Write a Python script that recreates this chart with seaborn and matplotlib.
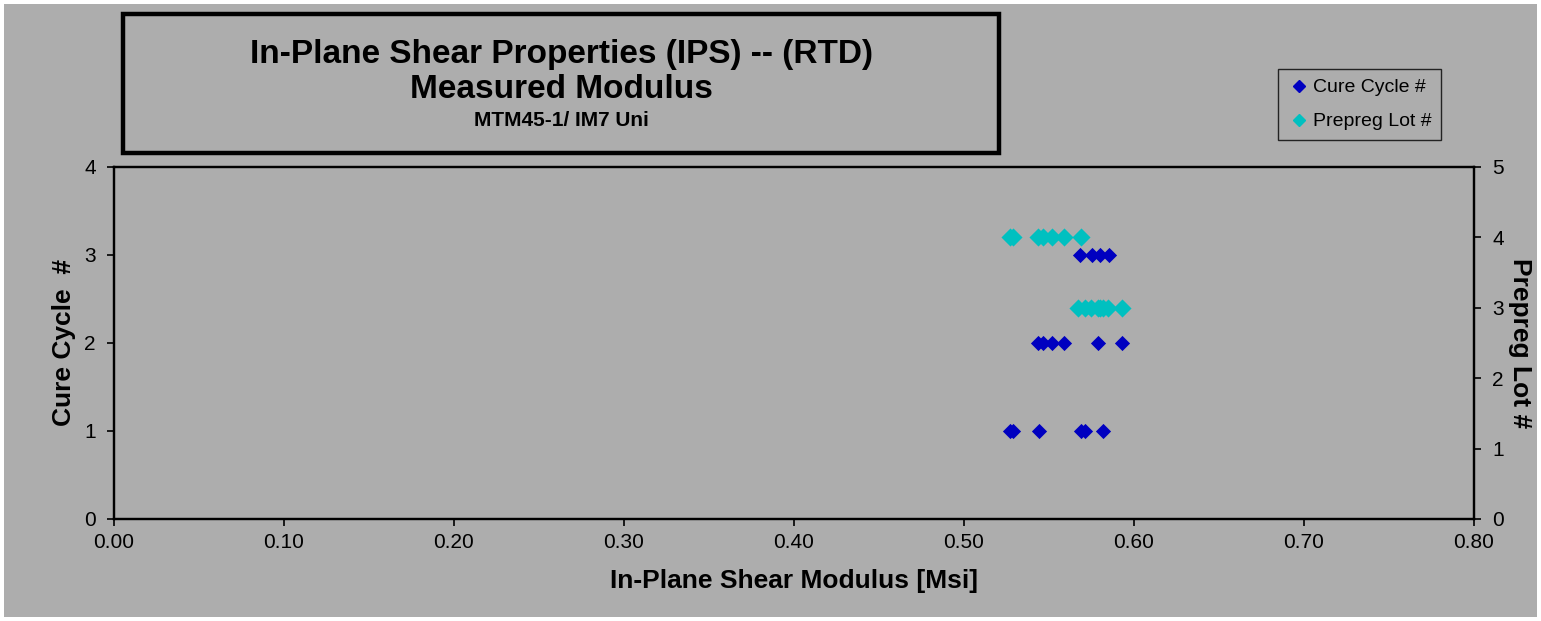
import matplotlib
matplotlib.use("Agg")
import matplotlib.pyplot as plt
from matplotlib.patches import Rectangle
from matplotlib.lines import Line2D
import seaborn as sns
import pandas as pd

# Cure cycle series (left axis)
cure_modulus = [0.527, 0.529, 0.544, 0.569, 0.571, 0.582,
                0.5435, 0.5465, 0.552, 0.559, 0.579, 0.593,
                0.568, 0.575, 0.580, 0.585]
cure_cycle = [1, 1, 1, 1, 1, 1,
              2, 2, 2, 2, 2, 2,
              3, 3, 3, 3]

# Prepreg lot series (right axis)
lot_modulus = [0.527, 0.529, 0.5435, 0.5465, 0.552, 0.559, 0.569,
               0.567, 0.571, 0.575, 0.579, 0.580, 0.582, 0.585, 0.593]
lot_number = [4, 4, 4, 4, 4, 4, 4,
              3, 3, 3, 3, 3, 3, 3, 3]

x_ticks = [0.0, 0.1, 0.2, 0.3, 0.4, 0.5, 0.6, 0.7, 0.8]
left_ticks = [0, 1, 2, 3, 4]
right_ticks = [0, 1, 2, 3, 4, 5]

bg = "#ADADAD"
blue = "#0000C0"
cyan = "#00C0C0"

sns.set_style("ticks")
plt.rcParams['font.family'] = ['Liberation Sans', 'DejaVu Sans']
plt.rcParams['text.color'] = 'black'
plt.rcParams['axes.labelcolor'] = 'black'

fig = plt.figure(figsize=(15.41, 6.21), dpi=100, facecolor="white")
fig.patches.append(Rectangle((4 / 1541, 4 / 621), 1533 / 1541, 613 / 621,
                             transform=fig.transFigure, facecolor=bg,
                             edgecolor="none", zorder=-10))

ax = fig.add_axes([114 / 1541, 1 - 519 / 621, 1360 / 1541, 352 / 621])
ax.set_facecolor(bg)
ax2 = ax.twinx()

cure_df = pd.DataFrame({"modulus": cure_modulus, "cycle": cure_cycle})
lot_df = pd.DataFrame({"modulus": lot_modulus, "lot": lot_number})

sns.scatterplot(data=cure_df, x="modulus", y="cycle", ax=ax, marker="D",
                color=blue, s=60, edgecolor=blue, linewidth=0, zorder=3)
sns.scatterplot(data=lot_df, x="modulus", y="lot", ax=ax2, marker="D",
                color=cyan, s=85, edgecolor=cyan, linewidth=0, zorder=3)

ax.set_xlim(0, 0.8)
ax.set_ylim(0, 4)
ax2.set_ylim(0, 5)
ax.set_xticks(x_ticks)
ax.set_xticklabels([f"{v:.2f}" for v in x_ticks])
ax.set_yticks(left_ticks)
ax2.set_yticks(right_ticks)

for a in (ax, ax2):
    a.tick_params(labelsize=15, colors="black", length=5, width=1.2)
    for s in a.spines.values():
        s.set_color("black")
        s.set_linewidth(1.6)
ax.tick_params(axis="x", pad=5)
ax.tick_params(axis="y", pad=8)
ax2.tick_params(axis="y", pad=8)

ax.set_xlabel("In-Plane Shear Modulus [Msi]", fontsize=19, fontweight="bold", labelpad=12)
ax.set_ylabel("Cure Cycle  #", fontsize=19, fontweight="bold", labelpad=6)
ax2.set_ylabel("Prepreg Lot #", fontsize=19, fontweight="bold", rotation=270, labelpad=20)

# title box
fig.patches.append(Rectangle((123 / 1541, 1 - 153 / 621), 876 / 1541, 139 / 621,
                             transform=fig.transFigure, facecolor="none",
                             edgecolor="black", linewidth=3.2))
cx = 561 / 1541
fig.text(cx, 1 - 54 / 621, "In-Plane Shear Properties (IPS) -- (RTD)", ha="center",
         va="center", fontsize=24, fontweight="bold")
fig.text(cx, 1 - 89 / 621, "Measured Modulus", ha="center", va="center",
         fontsize=24, fontweight="bold")
fig.text(cx, 1 - 120 / 621, "MTM45-1/ IM7 Uni", ha="center", va="center",
         fontsize=15, fontweight="bold")

handles = [Line2D([], [], marker="D", color=blue, linestyle="none", markersize=6),
           Line2D([], [], marker="D", color=cyan, linestyle="none", markersize=6)]
leg = fig.legend(handles, ["Cure Cycle #", "Prepreg Lot #"], loc="upper left",
                 bbox_to_anchor=(1278 / 1541, 1 - 69 / 621), borderaxespad=0, fontsize=14,
                 frameon=True, fancybox=False, facecolor=bg, edgecolor="black",
                 handletextpad=0.1, handlelength=1.2, borderpad=0.5, labelspacing=0.85)
leg.get_frame().set_linewidth(1.0)

fig.savefig("out.png", dpi=100, facecolor="white")
